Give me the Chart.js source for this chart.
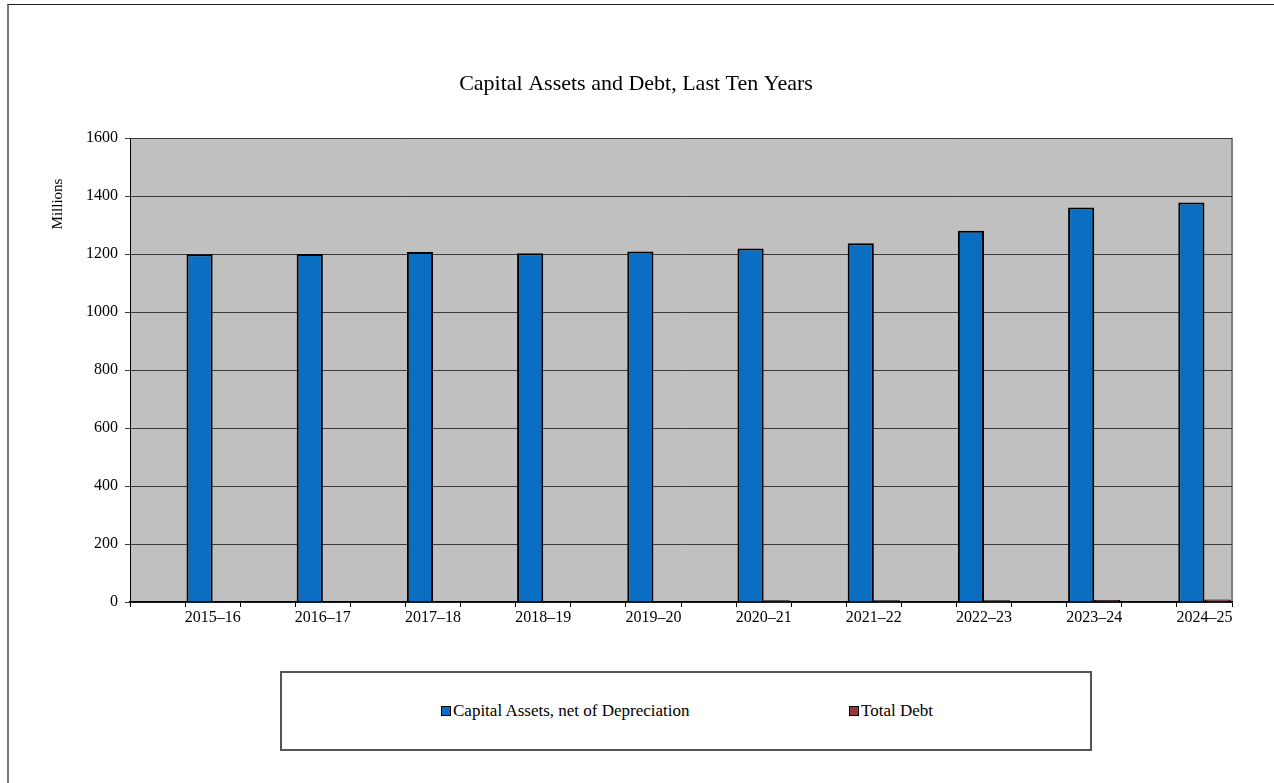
<!DOCTYPE html>
<html>
<head>
<meta charset="utf-8">
<script src="https://cdn.jsdelivr.net/npm/chart.js@4/dist/chart.umd.min.js"></script>
<style>
  html, body { margin: 0; padding: 0; background: #fff; overflow: hidden; }
  #frame { position: absolute; left: 7px; top: 4px; width: 1290px; height: 800px; border-left: 2px solid #777; border-top: 1px solid #222; }
  #wrap { position: absolute; left: 0; top: 0; width: 1274px; height: 783px; }
  #legend { position: absolute; left: 280px; top: 671px; width: 808px; height: 76px; border: 2px solid #555; background: #fff; font-family: "Liberation Serif", "Times New Roman", serif; font-size: 17px; }
  .item { position: absolute; top: 28px; white-space: nowrap; }
  .box { display: inline-block; width: 8px; height: 8px; border: 1.5px solid #000; margin-right: 2px; vertical-align: 0px; }
</style>
</head>
<body>
<div id="frame"></div>
<div id="wrap"><canvas id="myChart"></canvas></div>
<div id="legend"></div>
<script>
const years = ['2015–16','2016–17','2017–18','2018–19','2019–20','2020–21','2021–22','2022–23','2023–24','2024–25']
const capitalAssets = [1199, 1200, 1207, 1203, 1209, 1219, 1237, 1280, 1360, 1378]
const totalDebt = [0, 0, 0, 0, 0, 6, 6, 6, 7, 9]
const yTicks = [0, 200, 400, 600, 800, 1000, 1200, 1400, 1600]
const seriesNames = ['Capital Assets, net of Depreciation', 'Total Debt']
const seriesColors = ['#0A6EC2', '#993838']

// every year sits in the second half of a pair, the first slot is left empty
let labels = []
let assetsData = []
let debtData = []
for(let i = 0; i < years.length; i++){
    labels.push('', years[i])
    assetsData.push(null, capitalAssets[i])
    debtData.push(null, totalDebt[i])
}

const serif = '"Liberation Serif", "Times New Roman", serif'

const plotBg = {
    id: 'plotBg',
    beforeDraw(chart){
        let {ctx, chartArea: a} = chart
        ctx.save()
        ctx.fillStyle = '#C0C0C0'
        ctx.fillRect(a.left, a.top, a.right - a.left, a.bottom - a.top)
        ctx.strokeStyle = '#808080'
        ctx.lineWidth = 2
        ctx.beginPath()
        ctx.moveTo(a.right, a.top)
        ctx.lineTo(a.right, a.bottom)
        ctx.stroke()
        ctx.restore()
    },
    afterDraw(chart){
        // axis title sits high up on the left, not centred
        let ctx = chart.ctx
        ctx.save()
        ctx.translate(58, 204)
        ctx.rotate(-Math.PI / 2)
        ctx.font = `15px ${serif}`
        ctx.fillStyle = '#000'
        ctx.textAlign = 'center'
        ctx.textBaseline = 'middle'
        ctx.fillText('Millions', 0, 0)
        ctx.restore()
    }
}

new Chart(document.getElementById('myChart'), {
    type: 'bar',
    data: {
        labels: labels,
        datasets: [{
            label: seriesNames[0],
            data: assetsData,
            backgroundColor: seriesColors[0],
            borderColor: '#000',
            borderWidth: 2
        },
        {
            label: seriesNames[1],
            data: debtData,
            backgroundColor: seriesColors[1],
            borderColor: '#000',
            borderWidth: 2
        }]
    },
    options: {
        responsive: true,
        maintainAspectRatio: false,
        animation: false,
        categoryPercentage: 0.95,
        barPercentage: 1,
        layout: { padding: { left: 40, right: 42, top: 0, bottom: 141 } },
        plugins: {
            legend: { display: false },
            tooltip: { enabled: false },
            title: {
                display: true,
                text: 'Capital Assets and Debt, Last Ten Years',
                color: '#000',
                font: { family: serif, size: 22, weight: 'normal' },
                padding: { top: 71, bottom: 40.6 }
            }
        },
        scales: {
            x: {
                grid: { drawOnChartArea: false, tickLength: 5, color: '#000' },
                border: { color: '#000', width: 1.5 },
                ticks: { color: '#000', font: { family: serif, size: 16 }, padding: 1, autoSkip: false, maxRotation: 0 },
                afterFit(scale){ scale.height = 40 }
            },
            y: {
                min: 0,
                max: 1600,
                afterBuildTicks(scale){ scale.ticks = yTicks.map(v => ({ value: v })) },
                grid: { color: '#3a3a3a', lineWidth: 1, tickLength: 5 },
                border: { color: '#000', width: 1 },
                ticks: { color: '#000', font: { family: serif, size: 16 }, padding: 7, callback: v => String(v) },
                afterFit(scale){ scale.width = 90 }
            }
        }
    },
    plugins: [plotBg]
})

let legendDiv = document.getElementById('legend')
let itemLeft = [159, 567]
legendDiv.innerHTML = seriesNames.map((name, i) => `
    <span class="item" style="left:${itemLeft[i]}px"><span class="box" style="background:${seriesColors[i]}"></span>${name}</span>
`).join('')
</script>
</body>
</html>
